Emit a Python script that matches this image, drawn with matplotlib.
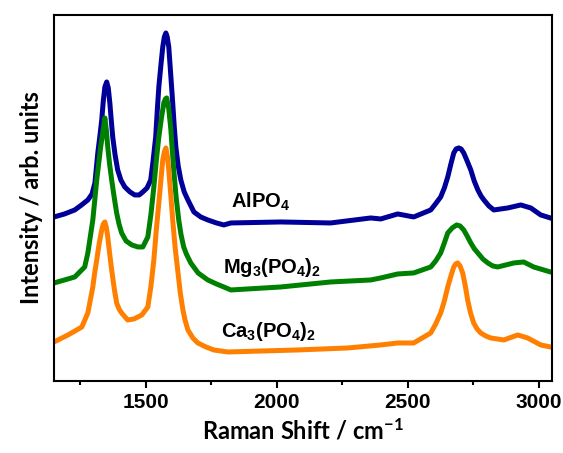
import matplotlib
matplotlib.use('Agg')
import matplotlib.pyplot as plt

plt.rcParams['mathtext.default'] = 'regular'

# AlPO4 (blue)
x_al = [1150, 1190, 1229, 1255, 1279, 1295, 1306, 1317, 1325, 1332, 1338, 1344, 1351, 1357,
        1363, 1368, 1374, 1383, 1393, 1405, 1420, 1440, 1458, 1475, 1489, 1505, 1519, 1528,
        1538, 1544, 1550, 1558, 1565, 1571, 1577, 1582, 1588, 1595, 1603, 1609, 1615, 1624,
        1634, 1647, 1661, 1684, 1710, 1737, 1770, 1798, 1825, 2016, 2206, 2359, 2397, 2462,
        2523, 2588, 2606, 2626, 2640, 2653, 2665, 2676, 2685, 2695, 2704, 2714, 2727, 2741,
        2754, 2768, 2780, 2791, 2810, 2829, 2882, 2932, 2970, 3008, 3045]
y_al = [164, 167, 171, 176, 181, 187, 198, 228, 245, 261, 280, 294, 299, 293,
        278, 262, 244, 226, 211, 201, 194, 189, 186, 186, 189, 193, 201, 220,
        244, 270, 294, 316, 334, 344, 348, 344, 334, 308, 278, 254, 234, 215,
        201, 189, 181, 169, 164, 161, 158, 156, 158, 159, 158, 163, 162, 167,
        164, 171, 177, 184, 193, 204, 217, 228, 232, 233, 232, 228, 220, 211,
        200, 191, 185, 181, 175, 171, 173, 176, 173, 166, 163]

# Mg3(PO4)2 (green)
x_mg = [1150, 1190, 1229, 1267, 1279, 1298, 1313, 1328, 1337, 1344, 1350, 1355, 1362, 1370,
        1380, 1389, 1398, 1408, 1425, 1447, 1470, 1489, 1508, 1520, 1531, 1541, 1550, 1560,
        1569, 1575, 1580, 1588, 1596, 1601, 1607, 1616, 1626, 1635, 1645, 1655, 1672, 1700,
        1737, 1770, 1798, 1825, 2016, 2206, 2359, 2397, 2462, 2523, 2588, 2607, 2626, 2640,
        2653, 2670, 2687, 2700, 2714, 2727, 2741, 2755, 2768, 2787, 2806, 2825, 2844, 2905,
        2943, 2981, 3045]
y_mg = [98, 101, 104, 114, 128, 161, 201, 234, 250, 263, 250, 234, 217, 201,
        183, 168, 157, 148, 140, 136, 134, 134, 144, 167, 194, 222, 244, 263,
        278, 282, 283, 272, 251, 232, 211, 184, 161, 146, 134, 127, 118, 108,
        101, 97, 94, 91, 94, 99, 101, 103, 107, 108, 114, 120, 128, 138,
        148, 153, 156, 155, 151, 145, 138, 132, 128, 122, 118, 115, 114, 118,
        119, 114, 109]

# Ca3(PO4)2 (orange)
x_ca = [1150, 1203, 1230, 1256, 1279, 1298, 1305, 1313, 1322, 1332, 1338, 1344, 1350, 1355,
        1362, 1370, 1380, 1389, 1398, 1408, 1431, 1455, 1485, 1508, 1520, 1531, 1540, 1550,
        1558, 1565, 1571, 1577, 1583, 1588, 1595, 1603, 1612, 1622, 1632, 1642, 1650, 1661,
        1680, 1699, 1730, 1760, 1813, 2080, 2271, 2397, 2462, 2523, 2588, 2607, 2626, 2640,
        2653, 2665, 2676, 2683, 2691, 2700, 2710, 2720, 2729, 2740, 2752, 2765, 2779, 2798,
        2817, 2867, 2920, 2958, 3008, 3045]
y_ca = [39, 46, 50, 54, 68, 94, 108, 121, 137, 151, 157, 159, 153, 144,
        128, 111, 92, 78, 72, 68, 61, 62, 66, 74, 95, 121, 150, 178,
        201, 221, 229, 233, 224, 211, 188, 161, 134, 111, 88, 71, 61, 51,
        43, 38, 34, 31, 29, 31, 33, 36, 38, 38, 48, 57, 68, 80,
        94, 105, 114, 117, 118, 115, 108, 95, 81, 68, 58, 52, 48, 45,
        43, 41, 46, 43, 36, 34]

labels = ['AlPO$_4$', 'Mg$_3$(PO$_4$)$_2$', 'Ca$_3$(PO$_4$)$_2$']
label_x = [1825, 1794, 1787]
label_y = [179, 113, 49]
colors = ['#000099', '#008000', '#FF8000']

fig = plt.figure(figsize=(5.63, 4.53), dpi=100)
ax = fig.add_axes([0.096, 0.159, 0.884, 0.808])

for xs, ys, c in zip([x_al, x_mg, x_ca], [y_al, y_mg, y_ca], colors):
    ax.plot(xs, ys, color=c, lw=3.6, solid_joinstyle='round')

for t, lx, ly in zip(labels, label_x, label_y):
    ax.text(lx, ly, t, fontsize=14.5, fontweight='bold', family='Liberation Sans',
            va='center', ha='left')

ax.set_xlim(1150, 3050)
ax.set_ylim(0, 366)
ax.set_xticks([1500, 2000, 2500, 3000])
ax.set_xticks([1250, 1750, 2250, 2750], minor=True)
ax.set_yticks([])
ax.tick_params(axis='x', which='major', length=5, width=1.5, direction='out')
ax.tick_params(axis='x', which='minor', length=3, width=1.5, direction='out')
for lab in ax.get_xticklabels():
    lab.set_family('Liberation Sans')
    lab.set_fontweight('bold')
    lab.set_fontsize(15)
for s in ax.spines.values():
    s.set_linewidth(1.5)

ax.set_xlabel('Raman Shift / cm$^{-1}$', family='Lato', fontweight='bold', fontsize=17)
ax.set_ylabel('Intensity / arb. units', family='Lato', fontweight='bold', fontsize=17,
              labelpad=8)

fig.savefig('out.png', dpi=100)
